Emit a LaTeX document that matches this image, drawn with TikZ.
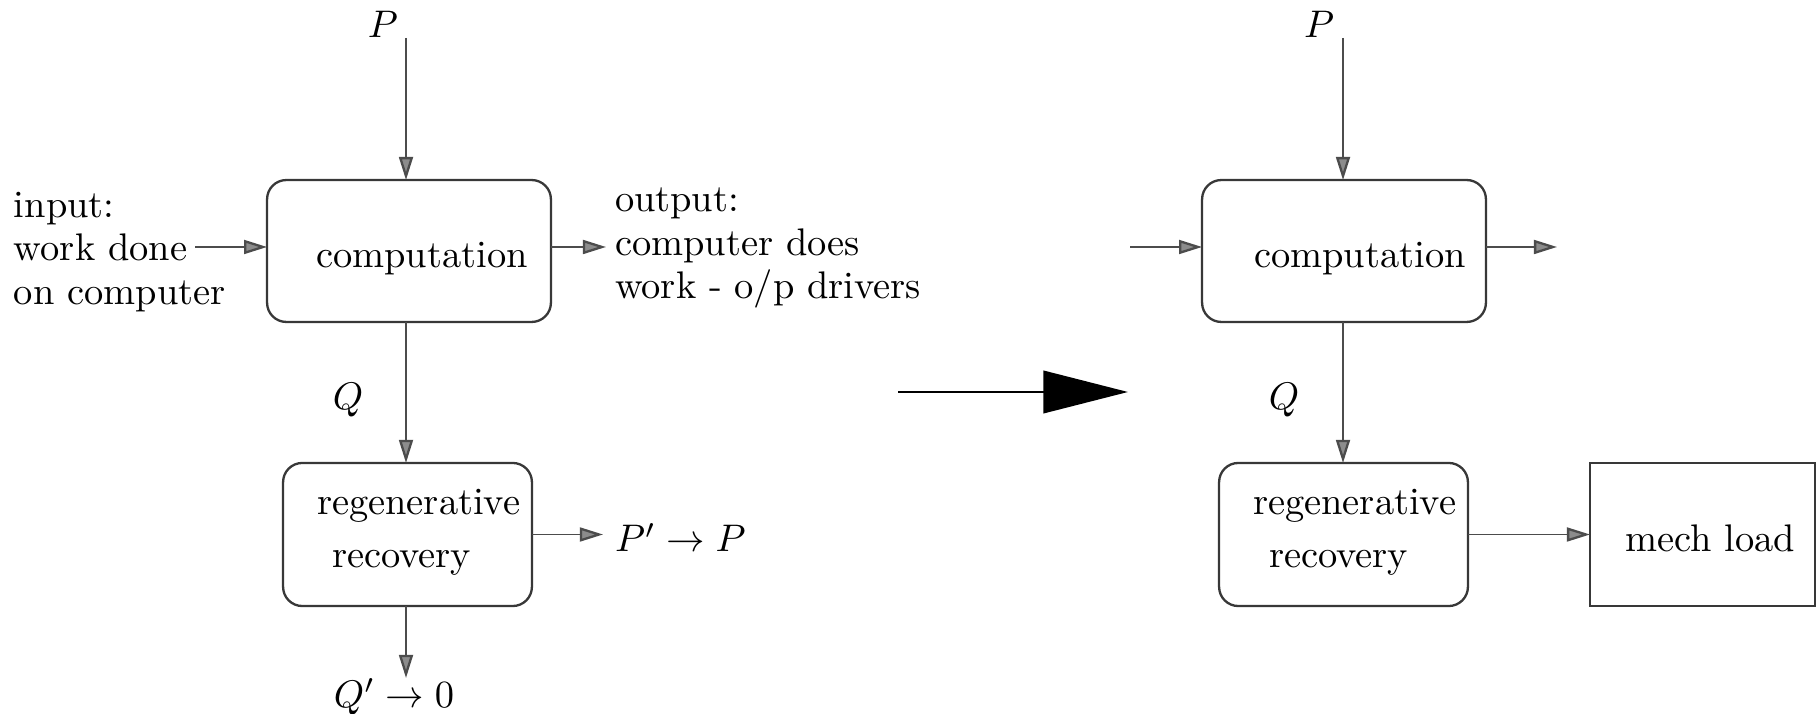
\documentclass[tikz,border=0pt]{standalone}
\usetikzlibrary{arrows.meta}
\begin{document}
\begin{tikzpicture}[x=0.26pt, y=-0.26pt,
  every node/.style={font=\fontsize{10}{11.3}\selectfont},
  rbox/.style={draw=black!78, line width=0.6pt, rounded corners=5pt, inner sep=0pt, outer sep=0pt},
  sbox/.style={draw=black!78, line width=0.6pt, inner sep=0pt, outer sep=0pt},
  flow/.style={draw=black!70, line width=0.45pt, -{Triangle[length=6pt, width=3.6pt, fill=black!45, line width=0.6pt]}},
  bigarrow/.style={draw=black, line width=0.75pt, -{Triangle[length=22pt, width=11pt]}},
  txt/.style={inner sep=0pt, outer sep=0pt}]
\useasboundingbox[fill=white] (0,0) rectangle (1820,714);

% ---------- left scheme ----------
\node[rbox, minimum width=73.8pt, minimum height=36.9pt] (compL) at (409,251) {};
\node[rbox, minimum width=64.7pt, minimum height=37.2pt] (regenL) at (407.5,534.5) {};

\node[txt, anchor=base] (compLtxt) at (422,268) {computation};
\node[txt, anchor=base west] (regenLa) at (317,515) {regenerative};
\node[txt, anchor=base west] (regenLb) at (332,568) {recovery};

\node[txt] (pL) at (383,24) {$P$};
\node[txt] (qL) at (348,400) {$Q$};
\node[txt, anchor=west, align=left] (inText) at (14,252) {input:\\work done\\on computer};
\node[txt, anchor=west, align=left] (outText) at (615,248) {output:\\computer does\\work - o/p drivers};
\node[txt, anchor=base west] (ppL) at (615,552) {$P' \to P$};
\node[txt] (qqL) at (394,697) {$Q' \to 0$};

\coordinate (pLtop) at (406,38);
\coordinate (inL) at (195,247);
\coordinate (outL) at (606,247);
\coordinate (ppEnd) at (603,534.5);
\coordinate (qqEnd) at (406,678);

\draw[flow] (pLtop) -- (pLtop |- compL.north);
\draw[flow] (compL.south -| pLtop) -- (regenL.north -| pLtop);
\draw[flow] (regenL.south -| pLtop) -- (qqEnd);
\draw[flow] (inL) -- (compL.west |- inL);
\draw[flow] (compL.east |- inL) -- (outL);
\draw[flow] (regenL.east) -- (ppEnd);

% ---------- transition arrow ----------
\coordinate (bigS) at (898,392);
\coordinate (bigE) at (1128,392);
\draw[bigarrow] (bigS) -- (bigE);

% ---------- right scheme ----------
\node[rbox, minimum width=73.8pt, minimum height=36.9pt] (compR) at (1344,251) {};
\node[rbox, minimum width=64.7pt, minimum height=37.2pt] (regenR) at (1343.5,534.5) {};
\node[sbox, minimum width=58.5pt, minimum height=37.2pt] (mech) at (1702.5,534.5) {};

\node[txt, anchor=base] (compRtxt) at (1360,268) {computation};
\node[txt, anchor=base west] (regenRa) at (1253,515) {regenerative};
\node[txt, anchor=base west] (regenRb) at (1269,568) {recovery};
\node[txt, anchor=base] (mechtxt) at (1710,552) {mech load};

\node[txt] (pR) at (1319,24) {$P$};
\node[txt] (qR) at (1284,400) {$Q$};

\coordinate (pRtop) at (1343,38);
\coordinate (inR) at (1130,247);
\coordinate (outR) at (1557,247);

\draw[flow] (pRtop) -- (pRtop |- compR.north);
\draw[flow] (compR.south -| pRtop) -- (regenR.north -| pRtop);
\draw[flow] (inR) -- (compR.west |- inR);
\draw[flow] (compR.east |- inR) -- (outR);
\draw[flow] (regenR.east) -- (mech.west);
\end{tikzpicture}
\end{document}
